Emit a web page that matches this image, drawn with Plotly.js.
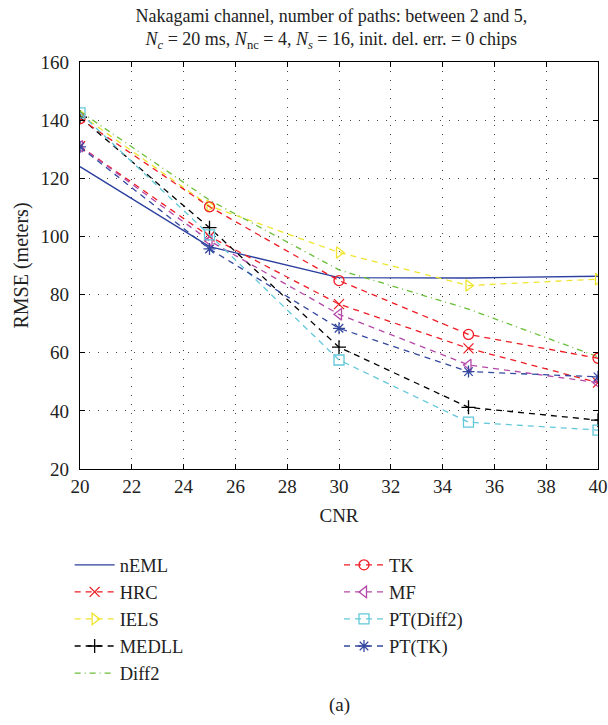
<!DOCTYPE html>
<html>
<head>
<meta charset="utf-8">
<script src="https://cdn.plot.ly/plotly-3.0.1.min.js"></script>
<style>html,body{margin:0;padding:0;background:#fff;}#chart{width:608px;height:725px;}</style>
</head>
<body>
<div id="chart"></div>
<script>
const cnr = [20, 25, 30, 35, 40];
const nEML = [124, 96.5, 85.8, 85.7, 86.3];
const HRC = [131, 100, 76.7, 61.5, 49.7];
const IELS = [142, 110.5, 94.5, 83.1, 85.3];
const MEDLL = [141, 103, 61.9, 41.2, 36.8];
const Diff2 = [143, 112.5, 88.5, 75, 58.6];
const TK = [140.5, 110.2, 84.8, 66.3, 58.1];
const MF = [131, 98.5, 73.2, 55.8, 49.7];
const PTDiff2 = [142.5, 100.5, 57.5, 36.1, 33.4];
const PTTK = [130.8, 95.7, 68.4, 53.5, 51.7];
const xTicks = [20, 22, 24, 26, 28, 30, 32, 34, 36, 38, 40];
const yTicks = [20, 40, 60, 80, 100, 120, 140, 160];

function tr(name, y, color, dash, symbol, legend) {
  const t = {
    x: cnr, y: y, name: name, type: 'scatter',
    mode: symbol ? 'lines+markers' : 'lines',
    line: {color: color, width: 1.3, dash: dash},
    legend: legend
  };
  if (symbol) t.marker = {symbol: symbol, size: 10, color: color, line: {color: color, width: 1.3}};
  return t;
}

const data = [
  tr('nEML', nEML, '#2b3f9e', 'solid', null, 'legend'),
  tr('HRC', HRC, '#ee1c24', '6px,5px', 'x-thin-open', 'legend'),
  tr('IELS', IELS, '#efe531', '6px,5px', 'triangle-right-open', 'legend'),
  tr('MEDLL', MEDLL, '#000000', '6px,5px', 'cross-thin-open', 'legend'),
  tr('Diff2', Diff2, '#6abf3a', '6px,4px,1px,4px', null, 'legend'),
  tr('TK', TK, '#ee1c24', '6px,5px', 'circle-open', 'legend2'),
  tr('MF', MF, '#b649a8', '6px,5px', 'triangle-left-open', 'legend2'),
  tr('PT(Diff2)', PTDiff2, '#62c8da', '6px,5px', 'square-open', 'legend2'),
  tr('PT(TK)', PTTK, '#34489f', '6px,5px', 'asterisk-open', 'legend2')
];

const FAM = 'Liberation Serif, Times New Roman, serif';
const TXT = '#222';

const layout = {
  width: 608, height: 725,
  margin: {l: 80, r: 10, t: 62, b: 256},
  paper_bgcolor: '#fff', plot_bgcolor: '#fff',
  font: {family: FAM, color: TXT, size: 19},
  showlegend: true,
  title: {
    text: 'Nakagami channel, number of paths: between 2 and 5,<br><i>N</i><sub><i>c</i></sub> = 20 ms, <i>N</i><sub>nc</sub> = 4, <i>N</i><sub><i>s</i></sub> = 16, init. del. err. = 0 chips',
    font: {family: FAM, size: 18, color: TXT},
    x: 0.545, xanchor: 'center', yref: 'container', y: 0.97, yanchor: 'middle'
  },
  xaxis: {
    range: [20, 40], tickvals: xTicks, ticktext: xTicks.map(String),
    ticks: 'inside', ticklen: 5, tickcolor: '#000', mirror: 'ticks',
    showline: true, linecolor: '#000', linewidth: 1.3,
    showgrid: true, gridcolor: '#444', gridwidth: 1, griddash: '1px,8px',
    zeroline: false,
    tickfont: {family: FAM, size: 19, color: TXT},
    title: {text: 'CNR', font: {family: FAM, size: 19, color: TXT}, standoff: 12}
  },
  yaxis: {
    range: [20, 160], tickvals: yTicks, ticktext: yTicks.map(String),
    ticks: 'inside', ticklen: 5, tickcolor: '#000', mirror: 'ticks',
    showline: true, linecolor: '#000', linewidth: 1.3,
    showgrid: true, gridcolor: '#444', gridwidth: 1, griddash: '1px,8px',
    zeroline: false, ticklabelstandoff: 6,
    tickfont: {family: FAM, size: 19, color: TXT},
    title: {text: 'RMSE (meters)', font: {family: FAM, size: 20, color: TXT}, standoff: 6}
  },
  legend: {
    x: -0.02, xanchor: 'left', y: -0.19, yanchor: 'top',
    bgcolor: 'rgba(0,0,0,0)', borderwidth: 0,
    font: {family: FAM, size: 18.5, color: TXT},
    tracegroupgap: 0, itemwidth: 40
  },
  legend2: {
    x: 0.5, xanchor: 'left', y: -0.19, yanchor: 'top',
    bgcolor: 'rgba(0,0,0,0)', borderwidth: 0,
    font: {family: FAM, size: 18.5, color: TXT},
    tracegroupgap: 0, itemwidth: 40
  },
  annotations: [{
    text: '(a)', xref: 'paper', yref: 'paper', x: 0.5, y: -0.58,
    xanchor: 'center', yanchor: 'middle', showarrow: false,
    font: {family: FAM, size: 19, color: TXT}
  }]
};

Plotly.newPlot('chart', data, layout, {displayModeBar: false, staticPlot: true});
</script>
</body>
</html>
